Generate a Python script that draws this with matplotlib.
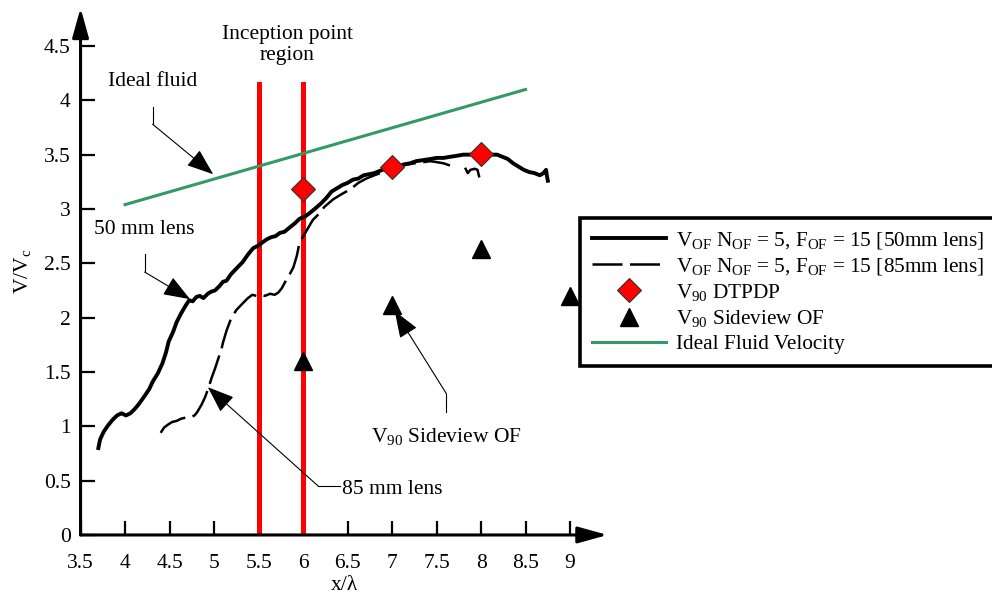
import numpy as np
import matplotlib
matplotlib.use('Agg')
import matplotlib.pyplot as plt

plt.rcParams['font.family'] = ['Liberation Serif', 'DejaVu Serif']
plt.rcParams['mathtext.fontset'] = 'custom'
plt.rcParams['mathtext.rm'] = 'Liberation Serif'
plt.rcParams['mathtext.it'] = 'Liberation Serif:italic'

# 50 mm lens optical flow profile
x50 = [3.70, 3.72, 3.76, 3.81, 3.86, 3.91, 3.96, 4.01, 4.06, 4.11, 4.16, 4.22, 4.27, 4.31,
       4.37, 4.42, 4.46, 4.49, 4.54, 4.58, 4.63, 4.68, 4.72, 4.76, 4.80, 4.84, 4.88, 4.93,
       4.97, 5.01, 5.06, 5.10, 5.14, 5.19, 5.26, 5.32, 5.38, 5.44, 5.49, 5.54, 5.59, 5.64,
       5.69, 5.74, 5.79, 5.85, 5.91, 5.96, 6.02, 6.07, 6.13, 6.20, 6.26, 6.32, 6.38, 6.44,
       6.50, 6.56, 6.62, 6.68, 6.74, 6.80, 6.86, 6.92, 6.98, 7.04, 7.13, 7.20, 7.27, 7.35,
       7.43, 7.50, 7.58, 7.65, 7.73, 7.80, 7.88, 7.96, 8.04, 8.11, 8.18, 8.24, 8.30, 8.36,
       8.42, 8.48, 8.54, 8.60, 8.66, 8.70, 8.73, 8.74, 8.75]
y50 = [0.80, 0.88, 0.95, 1.01, 1.06, 1.10, 1.12, 1.10, 1.12, 1.16, 1.21, 1.28, 1.34, 1.41,
       1.49, 1.58, 1.68, 1.78, 1.87, 1.96, 2.04, 2.11, 2.16, 2.15, 2.19, 2.20, 2.18, 2.22,
       2.24, 2.25, 2.29, 2.33, 2.34, 2.40, 2.46, 2.51, 2.58, 2.64, 2.66, 2.69, 2.72, 2.74,
       2.75, 2.78, 2.79, 2.83, 2.87, 2.91, 2.93, 2.96, 3.00, 3.05, 3.10, 3.16, 3.19, 3.22,
       3.24, 3.27, 3.28, 3.31, 3.32, 3.33, 3.35, 3.37, 3.38, 3.38, 3.41, 3.42, 3.44, 3.45,
       3.46, 3.47, 3.47, 3.48, 3.49, 3.50, 3.50, 3.52, 3.51, 3.50, 3.50, 3.48, 3.46, 3.42,
       3.39, 3.36, 3.34, 3.33, 3.31, 3.33, 3.36, 3.30, 3.26]

# 85 mm lens optical flow profile (nan = break)
x85 = [4.40, 4.44, 4.49, 4.53, 4.58, 4.63, 4.68, 4.73, 4.78, 4.81, 4.86, 4.90, 4.94, 4.97,
       5.01, 5.05, 5.08, 5.10, 5.14, 5.19, 5.25, 5.32, 5.38, 5.43, 5.48, 5.53, 5.57, 5.63,
       5.68, 5.72, 5.76, 5.80, 5.85, 5.89, 5.93, 5.96, 6.01, 6.06, 6.11, 6.16, 6.24, 6.34,
       6.44, 6.53, 6.62, 6.71, 6.80, 6.90, 6.99, 7.09, 7.17, 7.25, 7.34, 7.43, 7.51, 7.58,
       7.65, np.nan, 7.82, 7.85, 7.88, 7.93, 7.96, 7.98]
y85 = [0.94, 0.99, 1.02, 1.04, 1.05, 1.07, 1.08, 1.08, 1.10, 1.13, 1.20, 1.27, 1.36, 1.44,
       1.53, 1.63, 1.70, 1.77, 1.88, 1.99, 2.07, 2.13, 2.18, 2.21, 2.20, 2.21, 2.20, 2.22,
       2.21, 2.23, 2.27, 2.33, 2.40, 2.46, 2.57, 2.69, 2.76, 2.83, 2.90, 2.94, 3.02, 3.09,
       3.14, 3.18, 3.24, 3.28, 3.31, 3.34, 3.37, 3.39, 3.41, 3.42, 3.43, 3.44, 3.43, 3.42,
       3.40, np.nan, 3.38, 3.33, 3.36, 3.37, 3.36, 3.29]

x_dtpdp = [6, 7, 8]
y_dtpdp = [3.18, 3.39, 3.51]

x_side = [6, 7, 8, 9]
y_side = [1.60, 2.12, 2.63, 2.20]

x_ideal = [4.0, 8.5]
y_ideal = [3.04, 4.10]

x_incep = [5.5, 6.0]
incep_top = 4.15

xticks = [3.5, 4, 4.5, 5, 5.5, 6, 6.5, 7, 7.5, 8, 8.5, 9]
xticklabels = ['3.5', '4', '4.5', '5', '5.5', '6', '6.5', '7', '7.5', '8', '8.5', '9']
yticks = [0, 0.5, 1, 1.5, 2, 2.5, 3, 3.5, 4, 4.5]
yticklabels = ['0', '0.5', '1', '1.5', '2', '2.5', '3', '3.5', '4', '4.5']

fs = 15.5
fig = plt.figure(figsize=(9.92, 5.98), dpi=100)
ax = fig.add_axes([0.0812, 0.1054, 0.5312, 0.8813])
ax.set_xlim(3.5, 9.42)
ax.set_ylim(0, 4.85)

for xi in x_incep:
    ax.plot([xi, xi], [0, incep_top], color='#ff0000', lw=3.6, zorder=2)

l50, = ax.plot(x50, y50, color='black', lw=2.8, zorder=3,
               label='V$_{\\mathrm{OF}}$ N$_{\\mathrm{OF}}$ = 5, F$_{\\mathrm{OF}}$ = 15 [50mm lens]')
l85, = ax.plot(x85, y85, color='black', lw=1.8, dashes=(12, 3), zorder=3,
               label='V$_{\\mathrm{OF}}$ N$_{\\mathrm{OF}}$ = 5, F$_{\\mathrm{OF}}$ = 15 [85mm lens]')
ld, = ax.plot(x_dtpdp, y_dtpdp, 'D', color='#ff0000', mec='#333333', mew=0.8, ms=12.5,
              zorder=5, label='V$_{90}$ DTPDP')
lt, = ax.plot(x_side, y_side, '^', color='black', ms=13, zorder=5, clip_on=False,
              label='V$_{90}$ Sideview OF')
li, = ax.plot(x_ideal, y_ideal, color='#339966', lw=2.2, zorder=2, label='Ideal Fluid Velocity')

# axes drawn as arrows
for s in ax.spines.values():
    s.set_visible(False)
arr = dict(arrowstyle='-|>,head_length=1.8,head_width=0.5', lw=2.2, color='black',
           mutation_scale=10, shrinkA=0, shrinkB=0)
ax.annotate('', xy=(9.42, 0), xytext=(3.5, 0), arrowprops=arr, annotation_clip=False)
ax.annotate('', xy=(3.5, 4.85), xytext=(3.5, 0), arrowprops=arr, annotation_clip=False)

ax.set_xticks(xticks)
ax.set_xticklabels(xticklabels)
ax.set_yticks(yticks)
ax.set_yticklabels(yticklabels)
ax.tick_params(direction='in', length=10, width=1.6, labelsize=fs)
ax.tick_params(axis='x', pad=14)
ax.tick_params(axis='y', pad=7)
ax.set_xlabel('x/λ', fontsize=fs, labelpad=2)
ax.set_ylabel('V/V$_{\\mathrm{c}}$', fontsize=fs, labelpad=8)

# callouts
thin = dict(arrowstyle='-|>,head_length=1.2,head_width=0.45', lw=0.8, color='black',
            mutation_scale=14, shrinkA=0, shrinkB=0)
ax.text(5.82, 4.51, 'Inception point\nregion', fontsize=fs, ha='center', va='center',
        linespacing=1.1)

ax.text(4.31, 4.17, 'Ideal fluid', fontsize=fs, ha='center', va='center')
ax.plot([4.31, 4.31], [3.94, 3.78], color='black', lw=0.8)
ax.annotate('', xy=(4.99, 3.32), xytext=(4.31, 3.78), arrowprops=thin)

ax.text(4.22, 2.81, '50 mm lens', fontsize=fs, ha='center', va='center')
ax.plot([4.22, 4.22], [2.59, 2.42], color='black', lw=0.8)
ax.annotate('', xy=(4.73, 2.17), xytext=(4.22, 2.42), arrowprops=thin)

ax.text(6.44, 0.42, '85 mm lens', fontsize=fs, ha='left', va='center')
ax.plot([6.41, 6.17], [0.45, 0.45], color='black', lw=0.8)
ax.annotate('', xy=(4.93, 1.36), xytext=(6.17, 0.45), arrowprops=thin)

ax.text(7.61, 0.91, 'V$_{90}$ Sideview OF', fontsize=fs, ha='center', va='center')
ax.plot([7.61, 7.61], [1.13, 1.30], color='black', lw=0.8)
ax.annotate('', xy=(7.03, 2.06), xytext=(7.61, 1.30), arrowprops=thin)

leg = fig.legend(handles=[l50, l85, ld, lt, li], loc='upper left',
                 bbox_to_anchor=(580 / 992, 1 - 218 / 598), fontsize=15.3,
                 frameon=True, fancybox=False, handlelength=3.5, labelspacing=0.24,
                 borderpad=0.55, handletextpad=0.45, numpoints=1, borderaxespad=0)
leg.get_frame().set_edgecolor('black')
leg.get_frame().set_linewidth(2.6)
leg.get_frame().set_alpha(1)

fig.savefig('out.png', dpi=100)
